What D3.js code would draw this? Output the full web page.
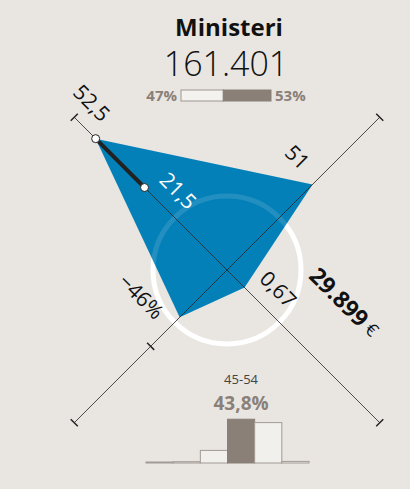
<!DOCTYPE html>
<html><head><meta charset="utf-8">
<script src="https://cdn.jsdelivr.net/npm/d3@7"></script>
<style>
html,body{margin:0;padding:0;background:#e9e6e2;}
svg{display:block;font-family:"Open Sans","Noto Sans",sans-serif;}
</style></head>
<body><svg id="c" width="410" height="489"></svg>
<script>
// ---- data ----
const title = "Ministeri";
const totalLabel = "161.401";
const genderShares = [47, 53];            // % left (light) / right (dark)
const genderLabels = ["47%", "53%"];
const axisLabels = ["52,5", "51", "0,67", "−46%"];   // TL, TR, BR, BL
const axisScores = [0.86, 0.56, 0.115, 0.31];      // normalized radius on each axis
const markerScore = 0.54;                           // secondary marker on TL axis
const markerLabel = "21,5";
const salaryLabel = "29.899";
const salaryUnit = "€";
const ageGroups = ["<25", "25-34", "35-44", "45-54", "55-64", "65+"];
const ageShares = [1.0, 1.3, 12.6, 43.8, 40.4, 1.6];
const highlightAge = "45-54";
const highlightLabel = "43,8%";

// ---- layout ----
const svg = d3.select("#c");
const cx = 227, cy = 270, R = 216;
const r = d3.scaleLinear().domain([0, 1]).range([0, R]);
const dirs = [[-1,-1],[1,-1],[1,1],[-1,1]].map(([x,y]) => [x/Math.SQRT2, y/Math.SQRT2]);
function pt(i, along, perp=0){
  const [dx,dy] = dirs[i];
  const px = -dy, py = dx;
  return [cx + dx*along + px*perp, cy + dy*along + py*perp];
}

// title
svg.append("text").attr("x", 229).attr("y", 36).attr("text-anchor","middle")
  .attr("font-size", 24).attr("font-weight", 700).attr("fill","#111").text(title);
svg.append("text").attr("x", 226).attr("y", 76).attr("text-anchor","middle")
  .attr("font-size", 34).attr("font-weight", 300).attr("fill","#111").text(totalLabel);

// gender bar
const gx = d3.scaleLinear().domain([0,100]).range([181, 271]);
svg.append("rect").attr("x", gx(0)).attr("y", 90).attr("width", gx(genderShares[0]) - gx(0)).attr("height", 11)
  .attr("fill","#f4f2ef").attr("stroke","#9d958e").attr("stroke-width",1);
svg.append("rect").attr("x", gx(genderShares[0])).attr("y", 90).attr("width", gx(100) - gx(genderShares[0])).attr("height", 11)
  .attr("fill","#8a8078").attr("stroke","#8a8078").attr("stroke-width",1);
svg.append("text").attr("x", 177).attr("y", 101).attr("text-anchor","end").attr("font-size",15)
  .attr("font-weight",700).attr("fill","#8a8078").text(genderLabels[0]);
svg.append("text").attr("x", 275).attr("y", 101).attr("text-anchor","start").attr("font-size",15)
  .attr("font-weight",700).attr("fill","#8a8078").text(genderLabels[1]);

// circle under polygon
svg.append("circle").attr("cx", cx).attr("cy", cy).attr("r", 74)
  .attr("fill","none").attr("stroke","#fff").attr("stroke-width",5);

// polygon
const poly = axisScores.map((v,i) => pt(i, r(v)));
svg.append("path").attr("d", d3.line()(poly) + "Z").attr("fill","#0480b8");

// faint ring over polygon
svg.append("circle").attr("cx", cx).attr("cy", cy).attr("r", 74)
  .attr("fill","none").attr("stroke","#fff").attr("stroke-opacity",0.12).attr("stroke-width",5);

// axes
dirs.forEach((d,i) => {
  const a = pt(i, 0), b = pt(i, R);
  svg.append("line").attr("x1",a[0]).attr("y1",a[1]).attr("x2",b[0]).attr("y2",b[1])
    .attr("stroke","#222").attr("stroke-width",0.8);
  const t1 = pt(i, R, -5), t2 = pt(i, R, 5);
  svg.append("line").attr("x1",t1[0]).attr("y1",t1[1]).attr("x2",t2[0]).attr("y2",t2[1])
    .attr("stroke","#222").attr("stroke-width",1.5);
});
// midpoint tick on percentage axis
{
  const t1 = pt(3, r(0.5), -5), t2 = pt(3, r(0.5), 5);
  svg.append("line").attr("x1",t1[0]).attr("y1",t1[1]).attr("x2",t2[0]).attr("y2",t2[1])
    .attr("stroke","#222").attr("stroke-width",1.5);
}

// thick marker segment + dots
const p0 = pt(0, r(axisScores[0])), p1 = pt(0, r(markerScore));
svg.append("line").attr("x1",p0[0]).attr("y1",p0[1]).attr("x2",p1[0]).attr("y2",p1[1])
  .attr("stroke","#222").attr("stroke-width",4);
[p0,p1].forEach(p => svg.append("circle").attr("cx",p[0]).attr("cy",p[1]).attr("r",4)
  .attr("fill","#fff").attr("stroke","#222").attr("stroke-width",1));

// labels
function label(i, along, perp, txt, opts={}){
  const [x,y] = pt(i, along, perp);
  return svg.append("text").attr("transform", `translate(${x},${y}) rotate(45)`)
    .attr("text-anchor","middle").attr("dominant-baseline","central")
    .attr("font-size", opts.size || 21).attr("font-weight", opts.weight || 400)
    .attr("fill", opts.fill || "#111").text(txt);
}
label(0, r(axisScores[0]) + 28, 23, axisLabels[0]);
label(0, r(markerScore) - 26, 22, markerLabel, {fill:"#fff"});
label(1, r(axisScores[1]) + 9, -30, axisLabels[1]);
label(2, r(axisScores[2]) + 25, -23, axisLabels[2]);
label(3, r(axisScores[3]) + 12, 42, axisLabels[3]);
{
  const [x,y] = pt(2, 106, -61);
  const t = svg.append("text").attr("transform", `translate(${x},${y}) rotate(45)`)
    .attr("text-anchor","middle").attr("dominant-baseline","central").attr("fill","#111");
  t.append("tspan").attr("font-size",23).attr("font-weight",700).text(salaryLabel);
  t.append("tspan").attr("font-size",18).attr("font-weight",400).attr("dx",5).text(salaryUnit);
}

// age histogram
const hx = d3.scaleBand().domain(ageGroups).range([146, 309]).padding(0);
const hy = d3.scaleLinear().domain([0, 100]).range([0, 100]);
const base = 463;
svg.append("g").selectAll("rect").data(ageGroups).join("rect")
  .attr("x", d => hx(d)).attr("width", hx.bandwidth())
  .attr("y", (d,i) => base - hy(ageShares[i])).attr("height", (d,i) => hy(ageShares[i]))
  .attr("fill", d => d === highlightAge ? "#8a8078" : "#f2f0ed")
  .attr("stroke", d => d === highlightAge ? "#8a8078" : "#a29a93").attr("stroke-width",1);
const hc = hx(highlightAge) + hx.bandwidth()/2;
svg.append("text").attr("x", hc).attr("y", 384).attr("text-anchor","middle").attr("font-size",13)
  .attr("fill","#444").text(highlightAge);
svg.append("text").attr("x", hc).attr("y", 410).attr("text-anchor","middle").attr("font-size",19)
  .attr("font-weight",700).attr("fill","#8a8078").text(highlightLabel);
</script></body></html>
